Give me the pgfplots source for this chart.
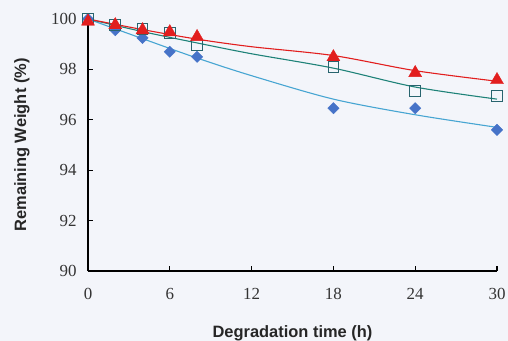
\documentclass[border=0pt]{standalone}
\usepackage{pgfplots}
\pgfplotsset{compat=1.18}
\usepackage{fontspec}
\setmainfont{Liberation Serif}
\newfontfamily\labfont{Liberation Sans}
\definecolor{bg}{RGB}{243,245,250}
\definecolor{cred}{RGB}{226,30,30}
\definecolor{cteal}{RGB}{30,130,120}
\definecolor{csq}{RGB}{40,100,110}
\definecolor{cdia}{RGB}{70,115,200}
\definecolor{clb}{RGB}{70,165,210}
\begin{document}
\begin{tikzpicture}
\fill[bg] (-88bp,-70bp) rectangle (420bp,271bp);
\useasboundingbox (-88bp,-70bp) rectangle (420bp,271bp);
\begin{axis}[
  scale only axis, width=409bp, height=252bp,
  xmin=0, xmax=30, ymin=90, ymax=100,
  axis lines=left, axis line style={line width=1.6pt,-},
  xtick={0,6,12,18,24,30}, ytick={90,92,...,100},
  tick align=inside, tick style={black, line width=1.2pt},
  major tick length=5bp,
  tick label style={font=\fontsize{17}{17}\selectfont, text=black!80},
  /pgf/number format/assume math mode=true,
  xticklabel style={yshift=-14bp},
  yticklabel style={xshift=-8bp},
  xlabel={\labfont\bfseries\fontsize{16.5}{17}\selectfont Degradation time (h)},
  ylabel={\labfont\bfseries\fontsize{16.5}{17}\selectfont Remaining Weight (\%)},
  xlabel style={at={(axis description cs:0.5,0)}, anchor=center, yshift=-62bp, text=black!85},
  ylabel style={at={(axis description cs:0,0.5)}, anchor=center, yshift=66bp, text=black!85},
  clip=false,
]
% fitted curves
\addplot[clb, line width=1.1pt, smooth, no marks] coordinates {(0,100) (4,99.22) (8,98.45) (12,97.75) (18,96.82) (24,96.2) (30,95.7)};
\addplot[cteal, line width=1.1pt, smooth, no marks] coordinates {(0,100) (4,99.5) (8,99.05) (12,98.62) (18,98.05) (24,97.3) (30,96.82)};
\addplot[cred, line width=1.1pt, smooth, no marks] coordinates {(0,100) (4,99.58) (8,99.2) (12,98.9) (18,98.55) (24,97.95) (30,97.53)};
% data
\addplot[only marks, mark=square*, mark size=4bp, mark options={rotate=45}, draw=cdia, fill=cdia] coordinates {(0,100) (2,99.56) (4,99.25) (6,98.7) (8,98.5) (18,96.46) (24,96.46) (30,95.6)};
\addplot[only marks, mark=square, mark size=5.3bp, draw=csq, line width=1pt] coordinates {(0,100) (2,99.75) (4,99.6) (6,99.45) (8,98.97) (18,98.1) (24,97.15) (30,96.95)};
\addplot[only marks, mark=triangle*, mark size=7.5bp, draw=cred, fill=cred] coordinates {(0,99.9) (2,99.76) (4,99.56) (6,99.48) (8,99.29) (18,98.49) (24,97.86) (30,97.58)};
\end{axis}
\end{tikzpicture}
\end{document}
